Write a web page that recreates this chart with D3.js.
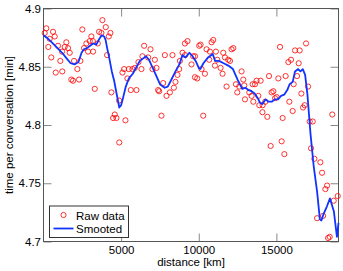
<!DOCTYPE html>
<html>
<head>
<meta charset="utf-8">
<script src="https://cdn.jsdelivr.net/npm/d3@7"></script>
<style>
  body { margin: 0; background: #fff; }
  svg text { font-family: "Liberation Sans", Arial, sans-serif; fill: #000; }
</style>
</head>
<body>
<div id="chart"></div>
<script>
// raw measurements (distance in km, time in min)
const rawDistance = [77,181,310,400,503,613,722,787,935,1084,1193,1210,1367,1471,1580,1690,1793,1903,1967,2180,
  2290,2374,2503,2612,2761,2870,2980,3083,3180,3193,3302,3495,3580,3730,3795,4010,4096,4203,4310,4373,
  4483,4590,4697,4870,4880,5085,5192,5276,5405,5493,5622,5730,5880,5988,6115,6310,6372,6482,6740,6890,
  7018,7170,7276,7385,7450,7598,7708,7817,7921,8140,8307,8398,8501,8630,8740,8785,8953,9107,9120,9275,
  9533,9643,9753,9760,9901,10030,10115,10178,10288,10397,10502,10674,10717,10825,10933,11042,11104,11190,11404,11532,
  11578,11687,11791,11900,12010,12113,12223,12397,12481,12610,12758,12868,12932,12977,13255,13403,13468,13513,13622,13726,
  13835,13900,13984,14100,14113,14287,14416,14525,14629,14693,14803,14913,15016,15125,15233,15338,15403,15512,15596,15770,
  15835,15944,16048,16113,16200,16330,16436,16500,16608,16715,16822,16910,17040,17145,17232,17338,17445,17620,17832,17942,
  18007,18155,18265,18330,18434,18600,18692,18950];
const rawTime = [4.879,4.883,4.867,4.874,4.858,4.880,4.876,4.845,4.868,4.855,4.863,4.846,4.867,4.871,4.866,4.862,4.839,4.838,4.855,4.848,
  4.839,4.855,4.882,4.866,4.870,4.863,4.872,4.876,4.872,4.863,4.831,4.870,4.880,4.879,4.890,4.884,4.860,4.876,4.879,4.828,
  4.806,4.809,4.806,4.821,4.785,4.845,4.848,4.804,4.840,4.848,4.830,4.848,4.849,4.830,4.854,4.848,4.859,4.868,4.858,4.865,
  4.848,4.856,4.849,4.830,4.829,4.808,4.836,4.860,4.825,4.828,4.860,4.832,4.837,4.843,4.848,4.855,4.862,4.870,4.860,4.872,
  4.852,4.859,4.841,4.859,4.840,4.868,4.869,4.848,4.808,4.844,4.865,4.856,4.863,4.871,4.873,4.851,4.863,4.856,4.849,4.844,
  4.862,4.858,4.833,4.856,4.855,4.865,4.866,4.835,4.828,4.833,4.846,4.839,4.834,4.822,4.828,4.825,4.835,4.820,4.835,4.838,
  4.825,4.817,4.838,4.811,4.817,4.820,4.807,4.842,4.782,4.828,4.829,4.823,4.824,4.840,4.867,4.786,4.806,4.775,4.842,4.854,
  4.820,4.856,4.812,4.835,4.864,4.842,4.853,4.864,4.827,4.815,4.817,4.870,4.833,4.803,4.780,4.803,4.771,4.720,4.768,4.759,
  4.722,4.745,4.748,4.703,4.704,4.809,4.735,4.739];

// smoothed curve
const smoothDistance = [0,300,600,900,1200,1500,1750,2000,2250,2450,2600,2800,3000,3200,3400,3600,3750,3900,4000,4100,
  4200,4400,4550,4750,4880,5000,5100,5300,5500,5750,6000,6200,6400,6600,6800,7000,7200,7500,7800,8000,
  8200,8500,8750,8950,9150,9400,9600,9800,10000,10100,10300,10600,10900,11050,11300,11600,11900,12200,12500,12800,
  13000,13200,13400,13600,13800,13950,14100,14300,14500,14700,14900,15100,15300,15500,15700,15850,16050,16200,16400,16550,
  16700,16850,17000,17200,17400,17620,17800,17900,18050,18250,18450,18700,18900,19000];
const smoothTime = [4.877,4.874,4.870,4.866,4.862,4.857,4.853,4.852,4.854,4.862,4.865,4.866,4.868,4.870,4.869,4.874,4.877,4.876,4.873,4.866,
  4.860,4.846,4.838,4.824,4.815,4.817,4.822,4.833,4.840,4.844,4.850,4.855,4.857,4.859,4.856,4.850,4.844,4.835,4.832,4.833,
  4.838,4.846,4.852,4.860,4.858,4.862,4.859,4.855,4.849,4.848,4.853,4.858,4.861,4.855,4.855,4.853,4.851,4.848,4.839,4.831,
  4.832,4.830,4.829,4.827,4.823,4.819,4.818,4.822,4.820,4.820,4.822,4.822,4.825,4.826,4.830,4.835,4.837,4.846,4.848,4.846,
  4.848,4.843,4.826,4.792,4.765,4.743,4.719,4.718,4.724,4.730,4.737,4.726,4.704,4.716];

const xTicks = [5000, 10000, 15000];
const yTicks = [4.7, 4.75, 4.8, 4.85, 4.9];

const margin = {top: 8.5, right: 4.5, bottom: 29.5, left: 43.5};
const W = 343, H = 271;
const width = W - margin.left - margin.right;
const height = H - margin.top - margin.bottom;

const svg = d3.select('#chart')
  .append('svg')
    .attr('width', W)
    .attr('height', H)
  .append('g')
    .attr('transform', `translate(${margin.left},${margin.top})`);

const x = d3.scaleLinear().domain([0, 19000]).range([0, width]);
const y = d3.scaleLinear().domain([4.7, 4.9]).range([height, 0]);

const axisColor = '#555';

// axes: ticks point inward, box drawn separately
const gx = svg.append('g')
  .attr('transform', `translate(0,${height})`)
  .call(d3.axisBottom(x).tickValues(xTicks).tickSize(-8).tickPadding(4).tickFormat(d => d));
const gy = svg.append('g')
  .call(d3.axisLeft(y).tickValues(yTicks).tickSize(-8).tickPadding(2.5).tickFormat(d => d));
const gt = svg.append('g')
  .call(d3.axisTop(x).tickValues(xTicks).tickSize(-8).tickFormat(''));
const gr = svg.append('g')
  .attr('transform', `translate(${width},0)`)
  .call(d3.axisRight(y).tickValues(yTicks).tickSize(-8).tickFormat(''));

[gx, gy, gt, gr].forEach(g => {
  g.select('.domain').remove();
  g.selectAll('line').attr('stroke', '#888');
  g.selectAll('text').style('font-size', '11.5px').attr('fill', '#000');
});

svg.append('rect')
  .attr('width', width)
  .attr('height', height)
  .attr('fill', 'none')
  .attr('stroke', axisColor);

// raw points
svg.selectAll('circle.raw')
  .data(rawDistance.map((d, i) => [d, rawTime[i]]))
  .join('circle')
    .attr('class', 'raw')
    .attr('cx', d => x(d[0]))
    .attr('cy', d => y(d[1]))
    .attr('r', 2.6)
    .attr('fill', 'none')
    .attr('stroke', '#ff0000')
    .attr('stroke-width', 0.8);

// smoothed line
const line = d3.line().x(d => x(d[0])).y(d => y(d[1]));
svg.append('path')
  .datum(smoothDistance.map((d, i) => [d, smoothTime[i]]))
  .attr('d', line)
  .attr('fill', 'none')
  .attr('stroke', '#1133ff')
  .attr('stroke-width', 1.8)
  .attr('stroke-linejoin', 'round');

// axis labels
svg.append('text')
  .attr('x', width / 2)
  .attr('y', height + 24)
  .attr('text-anchor', 'middle')
  .style('font-size', '11.5px')
  .text('distance [km]');

svg.append('text')
  .attr('transform', `translate(${12.5 - margin.left},${height / 2}) rotate(-90)`)
  .attr('text-anchor', 'middle')
  .style('font-size', '11.5px')
  .text('time per conversation [min]');

// legend
const lg = svg.append('g').attr('transform', `translate(${49.5 - margin.left},${206 - margin.top})`);
lg.append('rect')
  .attr('width', 79)
  .attr('height', 31.5)
  .attr('fill', '#fff')
  .attr('stroke', '#333');
lg.append('circle')
  .attr('cx', 14).attr('cy', 9)
  .attr('r', 2.6)
  .attr('fill', 'none')
  .attr('stroke', '#ff0000')
  .attr('stroke-width', 0.8);
lg.append('line')
  .attr('x1', 4).attr('x2', 24)
  .attr('y1', 22.5).attr('y2', 22.5)
  .attr('stroke', '#1133ff')
  .attr('stroke-width', 1.8);
lg.append('text').attr('x', 26.5).attr('y', 13.5).style('font-size', '11.5px').text('Raw data');
lg.append('text').attr('x', 26.5).attr('y', 26.5).style('font-size', '11.5px').text('Smooted');
</script>
</body>
</html>
